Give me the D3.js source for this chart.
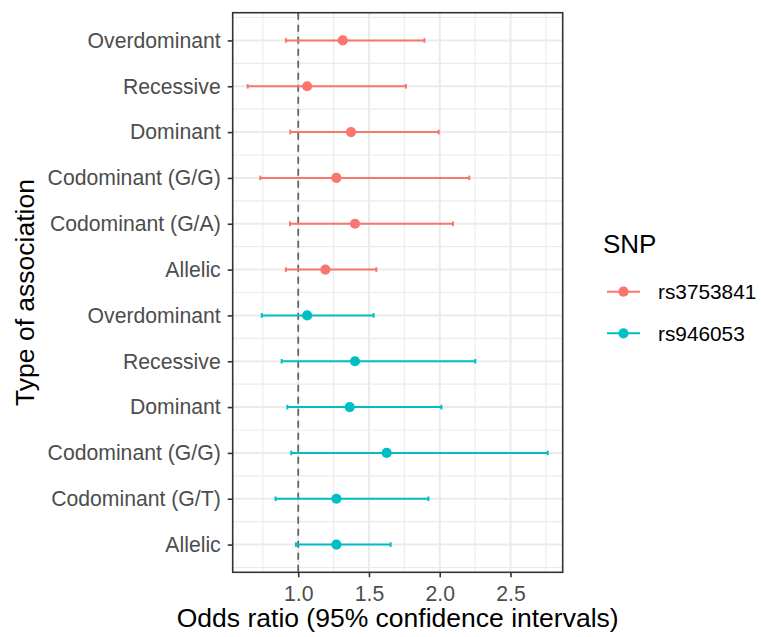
<!DOCTYPE html>
<html>
<head>
<meta charset="utf-8">
<script src="https://cdn.jsdelivr.net/npm/d3@7"></script>
<style>
  body { margin: 0; background: #fff; }
  text { font-family: "Liberation Sans", Arial, sans-serif; }
</style>
</head>
<body>
<div id="vis"></div>
<script>
// rows from bottom (1) to top (12)
var labels = ["Allelic", "Codominant (G/T)", "Codominant (G/G)", "Dominant", "Recessive", "Overdominant",
              "Allelic", "Codominant (G/A)", "Codominant (G/G)", "Dominant", "Recessive", "Overdominant"];
var snps = ["rs946053", "rs946053", "rs946053", "rs946053", "rs946053", "rs946053",
            "rs3753841", "rs3753841", "rs3753841", "rs3753841", "rs3753841", "rs3753841"];
var oddsRatio = [1.27, 1.27, 1.625, 1.364, 1.401, 1.063, 1.192, 1.401, 1.27, 1.373, 1.063, 1.315];
var lower = [0.984, 0.84, 0.951, 0.923, 0.883, 0.742, 0.913, 0.942, 0.732, 0.944, 0.643, 0.913];
var upper = [1.653, 1.92, 2.763, 2.012, 2.251, 1.533, 1.552, 2.094, 2.209, 1.993, 1.761, 1.892];
var xTicks = [1.0, 1.5, 2.0, 2.5];
var legendLevels = ["rs3753841", "rs946053"];
var legendColors = ["#F8766D", "#00BFC4"];

var data = labels.map(function (l, i) {
    return { row: i + 1, label: l, snp: snps[i], or: oddsRatio[i], lo: lower[i], hi: upper[i] };
});

var margin = { top: 12.7, right: 198.3, bottom: 64.7, left: 232.7 },
    width = 761 - margin.left - margin.right,
    height = 637 - margin.top - margin.bottom;

var svg = d3.select("#vis")
    .append("svg")
    .attr("width", 761)
    .attr("height", 637);

var g = svg.append("g")
    .attr("transform", "translate(" + margin.left + "," + margin.top + ")");

// ggplot-like 5% expansion
var xmin = d3.min(lower), xmax = d3.max(upper), xs = xmax - xmin;
var x = d3.scaleLinear().domain([xmin - 0.05 * xs, xmax + 0.05 * xs]).range([0, width]);
var capH = 0.1;
var ymin = 1 - capH / 2, ymax = labels.length + capH / 2, ys = ymax - ymin;
var y = d3.scaleLinear().domain([ymin - 0.05 * ys, ymax + 0.05 * ys]).range([height, 0]);

var color = d3.scaleOrdinal().domain(legendLevels).range(legendColors);

// minor grid
var xMinor = d3.range(0.75, 3.0, 0.5).filter(function (v) { return v > x.domain()[0] && v < x.domain()[1]; });
var yMinor = d3.range(0.5, labels.length + 1, 1);
g.selectAll(".xminor").data(xMinor).enter().append("line")
    .attr("x1", d => x(d)).attr("x2", d => x(d)).attr("y1", 0).attr("y2", height)
    .attr("stroke", "#EBEBEB").attr("stroke-width", 1.1);
g.selectAll(".yminor").data(yMinor).enter().append("line")
    .attr("y1", d => y(d)).attr("y2", d => y(d)).attr("x1", 0).attr("x2", width)
    .attr("stroke", "#EBEBEB").attr("stroke-width", 1.1);

// major grid
g.selectAll(".xmajor").data(xTicks).enter().append("line")
    .attr("x1", d => x(d)).attr("x2", d => x(d)).attr("y1", 0).attr("y2", height)
    .attr("stroke", "#EBEBEB").attr("stroke-width", 2);
g.selectAll(".ymajor").data(data).enter().append("line")
    .attr("y1", d => y(d.row)).attr("y2", d => y(d.row)).attr("x1", 0).attr("x2", width)
    .attr("stroke", "#EBEBEB").attr("stroke-width", 2);

// reference line
g.append("line")
    .attr("x1", x(1)).attr("x2", x(1)).attr("y1", 0).attr("y2", height)
    .attr("stroke", "#666").attr("stroke-width", 1.8)
    .attr("stroke-dasharray", "7,5");

// error bars
var eb = g.selectAll(".eb").data(data).enter().append("g")
    .attr("stroke", d => color(d.snp)).attr("stroke-width", 2);
eb.append("line")
    .attr("x1", d => x(d.lo)).attr("x2", d => x(d.hi))
    .attr("y1", d => y(d.row)).attr("y2", d => y(d.row));
eb.append("line")
    .attr("x1", d => x(d.lo)).attr("x2", d => x(d.lo))
    .attr("y1", d => y(d.row - capH / 2)).attr("y2", d => y(d.row + capH / 2));
eb.append("line")
    .attr("x1", d => x(d.hi)).attr("x2", d => x(d.hi))
    .attr("y1", d => y(d.row - capH / 2)).attr("y2", d => y(d.row + capH / 2));

g.selectAll(".pt").data(data).enter().append("circle")
    .attr("cx", d => x(d.or)).attr("cy", d => y(d.row)).attr("r", 5.1)
    .attr("fill", d => color(d.snp));

// panel border
g.append("rect").attr("width", width).attr("height", height)
    .attr("fill", "none").attr("stroke", "#333").attr("stroke-width", 1.6);

// axes
var xAxis = d3.axisBottom(x).tickValues(xTicks).tickFormat(d3.format(".1f")).tickSize(5).tickPadding(4);
var yAxis = d3.axisLeft(y).tickValues(d3.range(1, labels.length + 1))
    .tickFormat(d => labels[d - 1]).tickSize(5).tickPadding(7);

var gx = g.append("g").attr("transform", "translate(0," + height + ")").call(xAxis);
var gy = g.append("g").call(yAxis);
[gx, gy].forEach(function (a) {
    a.select(".domain").remove();
    a.selectAll(".tick line").attr("stroke", "#333").attr("stroke-width", 1.6);
    a.selectAll(".tick text").attr("fill", "#4D4D4D").style("font-size", "21.2px")
        .style("font-family", '"Liberation Sans", Arial, sans-serif');
});
gx.selectAll(".tick text").attr("dy", "0.93em");

// titles
svg.append("text")
    .attr("x", margin.left + width / 2).attr("y", 627)
    .attr("text-anchor", "middle").style("font-size", "26.5px").attr("fill", "#000")
    .text("Odds ratio (95% confidence intervals)");
svg.append("text")
    .attr("transform", "translate(34," + (margin.top + height / 2) + ") rotate(-90)")
    .attr("text-anchor", "middle").style("font-size", "26.5px").attr("fill", "#000")
    .text("Type of association");

// legend
var lg = svg.append("g");
lg.append("text").attr("x", 603).attr("y", 253).style("font-size", "26px").text("SNP");
var keys = lg.selectAll(".key").data(legendLevels).enter().append("g")
    .attr("transform", (d, i) => "translate(0," + (291.7 + i * 41.6) + ")");
keys.append("line").attr("x1", 607).attr("x2", 640)
    .attr("stroke", d => color(d)).attr("stroke-width", 2);
keys.append("circle").attr("cx", 623.5).attr("r", 5.1).attr("fill", d => color(d));
keys.append("text").attr("x", 658).attr("dy", "0.35em").style("font-size", "20.8px")
    .attr("fill", "#000").text(d => d);
</script>
</body>
</html>
